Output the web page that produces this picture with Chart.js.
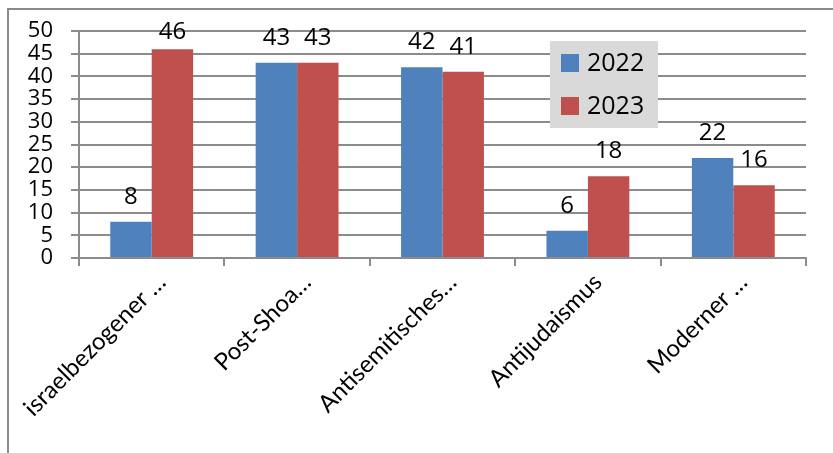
<!DOCTYPE html>
<html>
<head>
<meta charset="utf-8">
<script src="https://cdn.jsdelivr.net/npm/chart.js@4"></script>
<style>
  html, body { margin: 0; padding: 0; background: #fff; }
  #wrap { position: relative; width: 833px; height: 453px; }
  #frame { position: absolute; left: 7px; top: 8px; right: 0; bottom: 0; border-left: 2px solid #8a8a8a; border-top: 2px solid #8a8a8a; }
  canvas { position: absolute; left: 0; top: 0; }
</style>
</head>
<body>
<div id="wrap">
  <div id="frame"></div>
  <canvas id="chart" width="833" height="453"></canvas>
</div>
<script>
/* DATA */
const categories = ['israelbezogener …', 'Post-Shoa…', 'Antisemitisches…', 'Antijudaismus', 'Moderner …']
const values2022 = [8, 43, 42, 6, 22]
const values2023 = [46, 43, 41, 18, 16]
const yTicks = [0, 5, 10, 15, 20, 25, 30, 35, 40, 45, 50]

const FONT = '"Open Sans", sans-serif'
const LABEL_FONT = 'Lato, "Open Sans", sans-serif'
const BLUE = '#4f81bd'
const RED = '#c0504d'
const GRID = '#8c8c8c'

// value labels above the bars (kept inside the plot like Excel does)
const barLabels = {
  id: 'barLabels',
  afterDatasetsDraw(chart) {
    const ctx = chart.ctx
    const minBase = chart.chartArea.top + 8
    ctx.save()
    ctx.font = '24px ' + FONT
    ctx.fillStyle = '#000'
    ctx.textAlign = 'center'
    ctx.textBaseline = 'alphabetic'
    chart.data.datasets.forEach((ds, i) => {
      chart.getDatasetMeta(i).data.forEach((bar, j) => {
        ctx.fillText(String(ds.data[j]), bar.x, Math.max(bar.y - 18, minBase))
      })
    })
    ctx.restore()
  }
}

// legend box inside the plot, like the Excel original
const boxLegend = {
  id: 'boxLegend',
  afterDraw(chart) {
    const ctx = chart.ctx
    const x = 550, y = 41, w = 108, h = 87
    ctx.save()
    ctx.fillStyle = '#d9d9d9'
    ctx.fillRect(x, y, w, h)
    ctx.font = '25px ' + FONT
    ctx.textBaseline = 'middle'
    chart.data.datasets.forEach((ds, i) => {
      const cy = y + 22 + i * 43
      ctx.fillStyle = ds.backgroundColor
      ctx.fillRect(x + 11, cy - 9, 18, 18)
      ctx.fillStyle = '#000'
      ctx.fillText(ds.label, x + 37, cy + 1)
    })
    ctx.restore()
  }
}

new Chart(document.getElementById('chart'), {
  type: 'bar',
  data: {
    labels: categories,
    datasets: [
      { label: '2022', data: values2022, backgroundColor: BLUE },
      { label: '2023', data: values2023, backgroundColor: RED }
    ]
  },
  options: {
    responsive: false,
    animation: false,
    layout: { padding: { top: 31, right: 27, left: 0, bottom: 0 } },
    plugins: { legend: { display: false }, tooltip: { enabled: false } },
    datasets: { bar: { categoryPercentage: 0.57, barPercentage: 1 } },
    scales: {
      x: {
        grid: { offset: true, drawOnChartArea: false, drawTicks: true, tickLength: 8, color: GRID, lineWidth: 2 },
        border: { color: GRID, width: 2 },
        ticks: { color: '#000', font: { family: LABEL_FONT, size: 24 }, minRotation: 45, maxRotation: 45, padding: 2, labelOffset: 10, autoSkip: false },
        afterFit(scale) {
          scale.height = 195
          scale.paddingLeft = 0
          scale.paddingRight = 0
        }
      },
      y: {
        min: 0,
        max: 50,
        afterBuildTicks(scale) {
          scale.ticks = yTicks.map(v => ({ value: v }))
        },
        grid: { color: GRID, lineWidth: 2, tickLength: 8 },
        border: { color: GRID, width: 2 },
        ticks: { color: '#000', font: { family: FONT, size: 22 }, padding: 18, autoSkip: false },
        afterFit(scale) {
          scale.width = 79
          scale.paddingTop = 0
          scale.paddingBottom = 0
        }
      }
    }
  },
  plugins: [barLabels, boxLegend]
})
</script>
</body>
</html>
